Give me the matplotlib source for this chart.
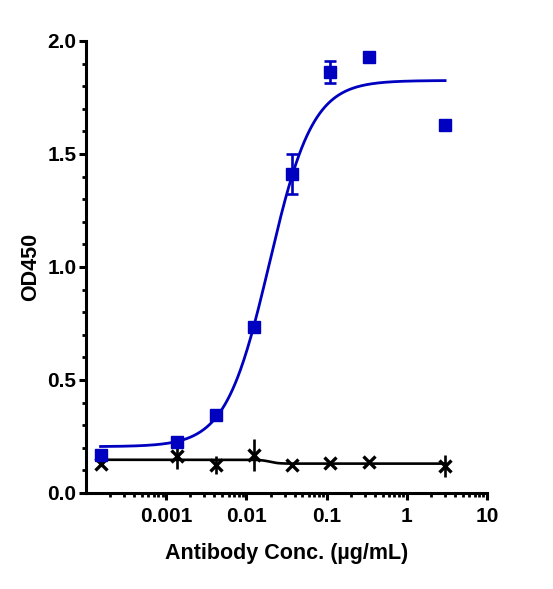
import numpy as np
import matplotlib
matplotlib.use('Agg')
import matplotlib.pyplot as plt
from matplotlib.ticker import FixedLocator, MultipleLocator, LogLocator, NullFormatter

plt.rcParams['font.family'] = ['Liberation Sans', 'DejaVu Sans']
plt.rcParams['font.weight'] = 'bold'

# data
conc = [0.000152, 0.00137, 0.00412, 0.0123, 0.037, 0.111, 0.333, 3.0]
od_target = [0.168, 0.226, 0.345, 0.735, 1.41, 1.863, 1.93, 1.63]
err_target = [0.0, 0.0, 0.0, 0.0, 0.089, 0.047, 0.0, 0.0]
od_ctrl = [0.13, 0.164, 0.124, 0.168, 0.124, 0.133, 0.137, 0.12]
err_ctrl = [0.0, 0.06, 0.04, 0.07, 0.0, 0.0, 0.0, 0.05]

# 4PL fit parameters: bottom, top, ec50, hill
fit_target = (0.205, 1.825, 0.0193, 1.6)
fit_ctrl = (0.147, 0.130, 0.0195, 8.0)

blue = '#0000C0'


def fourpl(x, b, t, c, h):
    return b + (t - b) / (1 + (c / x) ** h)


fig = plt.figure(figsize=(5.53, 5.89), dpi=100)
ax = fig.add_axes([0.1555, 0.163, 0.7252, 0.7675])

xx = np.logspace(np.log10(conc[0]), np.log10(conc[-1]), 400)
ax.plot(xx, fourpl(xx, *fit_ctrl), color='black', lw=1.9, zorder=2)
ax.errorbar(conc, od_ctrl, yerr=err_ctrl, fmt='x', color='black', ms=9,
            mew=2.4, elinewidth=1.9, capsize=0, zorder=3)

ax.plot(xx, fourpl(xx, *fit_target), color=blue, lw=2.0, zorder=4)
ax.errorbar(conc, od_target, yerr=err_target, fmt='s', color=blue, ms=8.5,
            elinewidth=1.9, capsize=4.5, capthick=1.9, zorder=5)

ax.set_xscale('log')
ax.set_xlim(1e-4, 10)
ax.set_ylim(0, 2.0)

ax.xaxis.set_major_locator(FixedLocator([0.001, 0.01, 0.1, 1, 10]))
ax.set_xticklabels(['0.001', '0.01', '0.1', '1', '10'])
ax.xaxis.set_minor_locator(LogLocator(base=10, subs=np.arange(2, 10)))
ax.xaxis.set_minor_formatter(NullFormatter())
ax.yaxis.set_major_locator(MultipleLocator(0.5))
ax.yaxis.set_minor_locator(MultipleLocator(0.1))
ax.yaxis.set_major_formatter(matplotlib.ticker.FormatStrFormatter('%.1f'))

for s in ['top', 'right']:
    ax.spines[s].set_visible(False)
for s in ['left', 'bottom']:
    ax.spines[s].set_linewidth(2.2)
ax.tick_params(which='major', length=5, width=2.2, labelsize=15, pad=2)
ax.tick_params(axis='x', which='major', pad=5)
ax.tick_params(which='minor', length=3, width=2.0)
for lab in ax.get_xticklabels() + ax.get_yticklabels():
    lab.set_fontweight('bold')

ax.set_xlabel('Antibody Conc. (µg/mL)', fontsize=15.5, fontweight='bold', labelpad=12)
ax.set_ylabel('OD450', fontsize=15.5, fontweight='bold', labelpad=4)

fig.savefig('out.png', dpi=100)
